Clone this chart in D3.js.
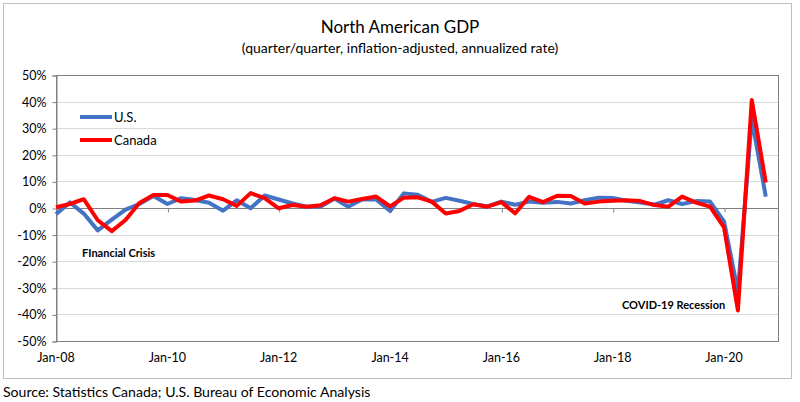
<!DOCTYPE html>
<html><head><meta charset="utf-8">
<script src="https://cdn.jsdelivr.net/npm/d3@7"></script>
<style>body{margin:0;background:#fff}svg{display:block}text{font-family:Lato,"Open Sans",sans-serif}</style>
</head><body><svg id="c" width="800" height="402"></svg>
<script>
const quarters = d3.range(52).map(i => new Date(2008 + Math.floor(i/4), (i%4)*3, 1));
const usGrowth = [-2.3,2.1,-2.1,-8.4,-4.4,-0.6,1.5,4.5,1.5,3.7,3.0,2.0,-1.0,2.9,-0.1,4.7,3.2,1.7,0.5,0.5,3.6,0.5,3.2,3.2,-1.1,5.5,5.0,2.3,3.8,2.7,1.5,0.6,2.4,1.2,2.4,2.0,2.3,1.7,2.9,3.9,3.8,2.7,2.1,1.3,2.9,1.5,2.6,2.4,-5.0,-31.4,33.4,4.3];
const canadaGrowth = [0.3,1.5,3.3,-4.6,-8.7,-4.5,1.9,4.9,4.9,2.4,2.8,4.7,3.3,0.8,5.6,3.7,-0.1,1.1,0.5,1.0,3.7,2.4,3.4,4.3,0.6,3.9,4.0,2.4,-2.1,-1.1,1.4,0.5,2.2,-2.0,4.2,2.2,4.6,4.5,1.7,2.4,2.7,2.9,2.6,1.1,0.5,4.3,2.0,0.5,-7.3,-38.5,40.6,9.6];
const yTicks = [50,40,30,20,10,0,-10,-20,-30,-40,-50];
const xTickDates = [2008,2010,2012,2014,2016,2018,2020].map(y => new Date(y,0,1));
const xTickLabels = ["Jan-08","Jan-10","Jan-12","Jan-14","Jan-16","Jan-18","Jan-20"];
const seriesNames = ["U.S.","Canada"];
const seriesColors = ["#4472C4","#FF0000"];

const svg = d3.select("#c");
const L = 56, R = 778, T = 75, B = 341;
const x = d3.scaleTime().domain([new Date(2008,0,1), new Date(2020,11,20)]).range([L, R]);
const y = d3.scaleLinear().domain([-50,50]).range([B, T]);

// outer border
svg.append("rect").attr("x",3.5).attr("y",3.5).attr("width",788).attr("height",375)
  .attr("fill","none").attr("stroke","#bfbfbf").attr("stroke-width",1);

// title
svg.append("text").attr("x",400).attr("y",33).attr("text-anchor","middle")
  .attr("font-size",17).attr("fill","#000").text("North American GDP");
svg.append("text").attr("x",400).attr("y",53).attr("text-anchor","middle")
  .attr("font-size",14).attr("fill","#000").text("(quarter/quarter, inflation-adjusted, annualized rate)");

// gridlines
svg.append("g").selectAll("line").data(yTicks.filter(v => v!==0 && v!==50 && v!==-50)).join("line")
  .attr("x1",L).attr("x2",R).attr("y1",d=>Math.round(y(d))+0.5).attr("y2",d=>Math.round(y(d))+0.5)
  .attr("stroke","#d9d9d9").attr("stroke-width",1.2);
// plot border
svg.append("rect").attr("x",L+0.5).attr("y",T+0.5).attr("width",R-L).attr("height",B-T)
  .attr("fill","none").attr("stroke","#808080").attr("stroke-width",1);

// y axis
const yAxis = d3.axisLeft(y).tickValues(yTicks).tickFormat(d => d + "%").tickSize(4).tickPadding(6);
const gy = svg.append("g").attr("transform",`translate(${L+0.5},0.5)`).call(yAxis);
gy.select(".domain").attr("stroke","#808080");
gy.selectAll(".tick line").attr("stroke","#808080");
gy.selectAll("text").attr("font-size",12.5).attr("fill","#000").style("font-family","Lato,sans-serif");

// x axis at zero
const xAxis = d3.axisBottom(x).tickValues(xTickDates).tickFormat((d,i)=>"").tickSize(4);
const gx = svg.append("g").attr("transform",`translate(0.5,${Math.round(y(0))+0.5})`).call(xAxis);
gx.select(".domain").attr("stroke","#808080").attr("d",`M${L},0H${R}`);
gx.selectAll(".tick line").attr("stroke","#808080");
// x labels at bottom
svg.append("g").selectAll("text").data(xTickDates).join("text")
  .attr("x",d=>x(d)).attr("y",362).attr("text-anchor","middle").attr("font-size",12.5)
  .attr("fill","#000").text((d,i)=>xTickLabels[i]);

// lines
const series = [usGrowth, canadaGrowth];
const line = d3.line().x((d,i)=>x(quarters[i])).y(d=>y(d)).curve(d3.curveLinear);
series.forEach((s,k) => {
  svg.append("path").datum(s).attr("d",line).attr("fill","none")
    .attr("stroke",seriesColors[k]).attr("stroke-width",4).attr("stroke-linejoin","round");
});

// legend
seriesNames.forEach((n,k) => {
  const ly = 117 + k*23;
  svg.append("line").attr("x1",80).attr("x2",112).attr("y1",ly).attr("y2",ly)
    .attr("stroke",seriesColors[k]).attr("stroke-width",4);
  svg.append("text").attr("x",114).attr("y",ly+5).attr("font-size",13).attr("fill","#000").text(n);
});

// annotations
svg.append("text").attr("x",82).attr("y",257).attr("font-size",11).attr("font-weight","bold")
  .attr("fill","#000").text("FInancial Crisis");
svg.append("text").attr("x",622).attr("y",309).attr("font-size",11).attr("font-weight","bold")
  .attr("fill","#000").text("COVID-19 Recession");

// source
svg.append("text").attr("x",3).attr("y",397).attr("font-size",14.1).attr("fill","#000")
  .text("Source: Statistics Canada; U.S. Bureau of Economic Analysis");
</script></body></html>
